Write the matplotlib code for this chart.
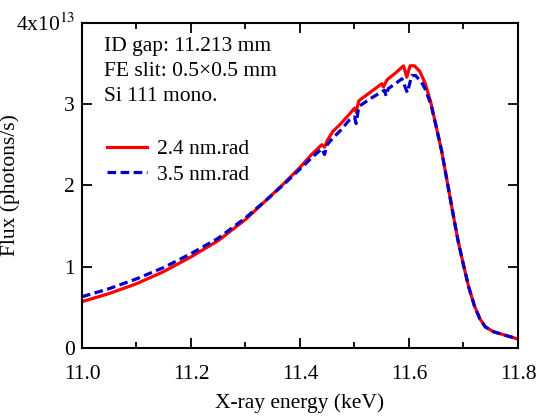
import matplotlib
matplotlib.use("Agg")
from matplotlib import pyplot as plt
from matplotlib.ticker import MultipleLocator

plt.rcParams['font.family'] = ['Liberation Serif', 'DejaVu Serif']
plt.rcParams['mathtext.fontset'] = 'stix'

# 2.4 nm.rad
e_red = [11.0, 11.05, 11.10, 11.15, 11.20, 11.25, 11.30, 11.34, 11.37, 11.40,
         11.42, 11.44, 11.445, 11.45, 11.46, 11.475, 11.49, 11.50, 11.503, 11.508,
         11.53, 11.55, 11.553, 11.56, 11.575, 11.59, 11.596, 11.602, 11.61, 11.62,
         11.63, 11.64, 11.65, 11.66, 11.67, 11.68, 11.69, 11.70, 11.71, 11.72,
         11.73, 11.74, 11.755, 11.78, 11.80]
f_red = [0.57, 0.67, 0.79, 0.94, 1.12, 1.32, 1.58, 1.83, 2.02, 2.22,
         2.37, 2.50, 2.47, 2.55, 2.66, 2.76, 2.87, 2.95, 2.90, 3.04,
         3.15, 3.25, 3.21, 3.30, 3.38, 3.47, 3.33, 3.47, 3.47, 3.40,
         3.25, 3.02, 2.72, 2.42, 2.05, 1.68, 1.32, 1.02, 0.74, 0.52,
         0.36, 0.26, 0.20, 0.15, 0.11]

# 3.5 nm.rad
e_blue = [11.0, 11.05, 11.10, 11.15, 11.20, 11.25, 11.30, 11.34, 11.37, 11.40,
          11.42, 11.44, 11.445, 11.45, 11.46, 11.475, 11.49, 11.50, 11.503, 11.508,
          11.53, 11.555, 11.558, 11.562, 11.575, 11.587, 11.597, 11.605, 11.612, 11.623,
          11.63, 11.64, 11.65, 11.66, 11.67, 11.68, 11.69, 11.70, 11.71, 11.72,
          11.73, 11.74, 11.755, 11.78, 11.80]
f_blue = [0.63, 0.73, 0.85, 0.99, 1.16, 1.35, 1.60, 1.83, 2.01, 2.20,
          2.33, 2.45, 2.38, 2.50, 2.58, 2.68, 2.80, 2.84, 2.76, 2.97,
          3.07, 3.17, 3.10, 3.19, 3.25, 3.31, 3.14, 3.35, 3.35, 3.27,
          3.18, 3.00, 2.72, 2.42, 2.05, 1.68, 1.32, 1.02, 0.74, 0.52,
          0.36, 0.26, 0.20, 0.15, 0.11]

x_ticks = [11.0, 11.2, 11.4, 11.6, 11.8]
x_labels = ['11.0', '11.2', '11.4', '11.6', '11.8']
y_ticks = [0, 1, 2, 3, 4]
y_labels = ['0', '1', '2', '3', r'4x10$^{13}$']

fig = plt.figure(figsize=(5.38, 4.16), dpi=100)
ax = fig.add_axes([0.1524, 0.1635, 0.8104, 0.7819])

ax.plot(e_red, f_red, '-', color='#ff0000', lw=2.3, label='2.4 nm.rad')
ax.plot(e_blue, f_blue, '--', color='#0000cc', lw=2.3, dashes=(2.7, 1.4),
        label='3.5 nm.rad')

ax.set_xlim(11.0, 11.8)
ax.set_ylim(0, 4)
ax.set_xticks(x_ticks)
ax.set_xticklabels(x_labels)
ax.xaxis.set_minor_locator(MultipleLocator(0.1))
ax.set_yticks(y_ticks)
ax.set_yticklabels(y_labels)
ax.tick_params(which='both', direction='in', top=True, right=True,
               labelsize=15.5, width=1.3)
ax.tick_params(which='major', length=7)
ax.tick_params(which='minor', length=4.5)
ax.tick_params(axis='x', pad=12)
ax.tick_params(axis='y', pad=5)
for s in ax.spines.values():
    s.set_linewidth(1.5)

ax.set_xlabel('X-ray energy (keV)', fontsize=15.5, labelpad=7)
ax.set_ylabel('Flux (photons/s)', fontsize=15.5)
ax.yaxis.set_label_coords(-0.142, 0.5)

ax.text(0.05, 0.955, 'ID gap: 11.213 mm\nFE slit: 0.5\u00d70.5 mm\nSi 111 mono.',
        transform=ax.transAxes, fontsize=15.5, va='top', ha='left', linespacing=1.4)

ax.legend(loc='upper left', bbox_to_anchor=(0.058, 0.642), frameon=False,
          fontsize=15.5, handlelength=1.85, handletextpad=0.45, labelspacing=0.25,
          borderpad=0, borderaxespad=0)

plt.savefig('out.png', dpi=100)
